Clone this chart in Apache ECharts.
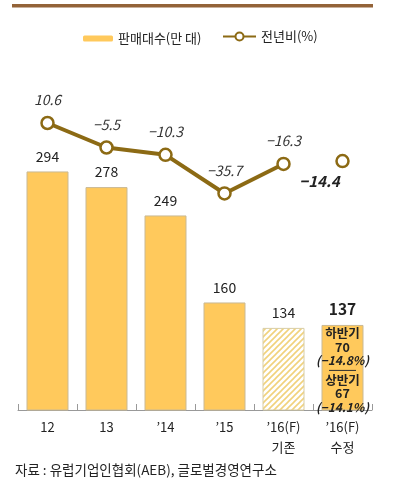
<!DOCTYPE html>
<html><head><meta charset="utf-8">
<script src="https://cdn.jsdelivr.net/npm/echarts@6/dist/echarts.min.js"></script>
<style>html,body{margin:0;padding:0;background:#fff}#c{width:397px;height:481px}</style>
</head><body><div id="c"></div>
<script>
const categories = ['12', '13', '’14', '’15', '’16(F)\n기존', '’16(F)\n수정'];
const sales = [294, 278, 249, 160, 134, 137];
const yoy = [10.6, -5.5, -10.3, -35.7, -16.3, null];
const yoyRevised = [null, null, null, null, null, -14.4];
const halfLabels = ['하반기', '상반기'];
const halfValues = [70, 67];
const halfYoy = [-14.8, -14.1];
const sourceText = '자료 : 유럽기업인협회(AEB), 글로벌경영연구소';

const FONT = '"Noto Sans CJK KR", "Noto Sans", sans-serif';
const LINE = '#8C6A14';
const BAR = '#FFC95C';
const BAR_BORDER = '#C9B995';

function fmt(v) { return (v < 0 ? '−' : '') + Math.abs(v).toFixed(1); }

function hatch() {
  const c = document.createElement('canvas');
  c.width = 6; c.height = 6;
  const g = c.getContext('2d');
  g.fillStyle = '#fff'; g.fillRect(0, 0, 6, 6);
  g.strokeStyle = '#F1D27C'; g.lineWidth = 1.6;
  g.beginPath();
  g.moveTo(0, 6); g.lineTo(6, 0);
  g.moveTo(-3, 3); g.lineTo(3, -3);
  g.moveTo(3, 9); g.lineTo(9, 3);
  g.stroke();
  return c;
}

const barData = sales.map((v, i) => {
  const item = { value: v };
  if (i === 4) item.itemStyle = { color: { image: hatch(), repeat: 'repeat' }, borderColor: '#D8CDA6' };
  if (i === 5) item.label = { fontWeight: 'bold', fontSize: 15.5 };
  return item;
});

const overlayData = sales.map((v, i) => {
  const item = { value: v };
  if (i === 5) {
    item.label = {
      show: true,
      position: 'insideTop',
      distance: 2,
      formatter: [
        '{t|' + halfLabels[0] + '}', '{t|' + halfValues[0] + '}', '{p|(' + fmt(halfYoy[0]) + '%)}',
        '{hr|}',
        '{t|' + halfLabels[1] + '}', '{t|' + halfValues[1] + '}', '{p|(' + fmt(halfYoy[1]) + '%)}'
      ].join('\n'),
      rich: {
        t: { fontFamily: FONT, fontSize: 12.5, fontWeight: 'bold', color: '#222', lineHeight: 13.5, align: 'center' },
        p: { fontFamily: FONT, fontSize: 12, fontWeight: 'bold', fontStyle: 'italic', color: '#222', lineHeight: 13.5, align: 'center' },
        hr: { width: 27, height: 0, borderColor: '#333', borderWidth: 0.8, align: 'center', lineHeight: 6 }
      }
    };
  }
  return item;
});

const chart = echarts.init(document.getElementById('c'), null, { renderer: 'canvas' });
chart.setOption({
  animation: false,
  textStyle: { fontFamily: FONT },
  graphic: [
    { type: 'rect', left: 12, top: 4, shape: { width: 361, height: 3.5 }, style: { fill: '#936338' } },
    { type: 'text', left: 15, top: 463, style: { text: sourceText, font: '13.5px ' + FONT, fill: '#222' } }
  ],
  legend: [
    { data: ['판매대수(만 대)'], left: 78, top: 27, itemWidth: 30, itemHeight: 6, itemGap: 0,
      itemStyle: { borderWidth: 0 },
      textStyle: { fontFamily: FONT, fontSize: 13, color: '#222' } },
    { data: ['전년비(%)'], left: 217, top: 25, itemWidth: 33, itemHeight: 10,
      textStyle: { fontFamily: FONT, fontSize: 13, color: '#222' } }
  ],
  grid: { left: 18, right: 25, top: 60, bottom: 71 },
  xAxis: {
    type: 'category', data: categories, boundaryGap: true,
    axisLine: { onZero: false, lineStyle: { color: '#999', width: 1 } },
    axisTick: { show: true, inside: true, length: 6, lineStyle: { color: '#999' } },
    axisLabel: { fontFamily: FONT, fontSize: 13, color: '#222', margin: 7, lineHeight: 20 }
  },
  yAxis: [
    { type: 'value', min: 50, max: 408, show: false, splitLine: { show: false } },
    { type: 'value', min: -178, max: 52, show: false, splitLine: { show: false } }
  ],
  series: [
    {
      name: '판매대수(만 대)', type: 'bar', data: barData, barWidth: 42,
      itemStyle: { color: BAR, borderColor: BAR_BORDER, borderWidth: 1 },
      label: { show: true, position: 'top', distance: 8, fontFamily: FONT, fontSize: 14, color: '#222' }
    },
    {
      name: 'overlay', type: 'bar', data: overlayData, barWidth: 42, barGap: '-100%', silent: true, z: 3,
      itemStyle: { color: 'rgba(0,0,0,0)' }, label: { show: false }
    },
    {
      name: '전년비(%)', type: 'line', yAxisIndex: 1, data: yoy, z: 5,
      symbol: 'circle', symbolSize: 12,
      lineStyle: { color: LINE, width: 4 },
      itemStyle: { color: '#fff', borderColor: LINE, borderWidth: 2.5 },
      label: { show: true, position: 'top', distance: 9, fontFamily: FONT, fontSize: 14, fontStyle: 'italic', color: '#333',
        formatter: p => fmt(p.value) }
    },
    {
      name: '전년비 수정', type: 'line', yAxisIndex: 1, data: yoyRevised, z: 5,
      symbol: 'circle', symbolSize: 12,
      lineStyle: { color: LINE, width: 4 },
      itemStyle: { color: '#fff', borderColor: LINE, borderWidth: 2.5 },
      label: { show: true, position: 'inside', offset: [-23, 20], fontFamily: FONT, fontSize: 15, fontWeight: 'bold', fontStyle: 'italic', color: '#222',
        formatter: p => fmt(p.value) }
    }
  ]
});
</script></body></html>
